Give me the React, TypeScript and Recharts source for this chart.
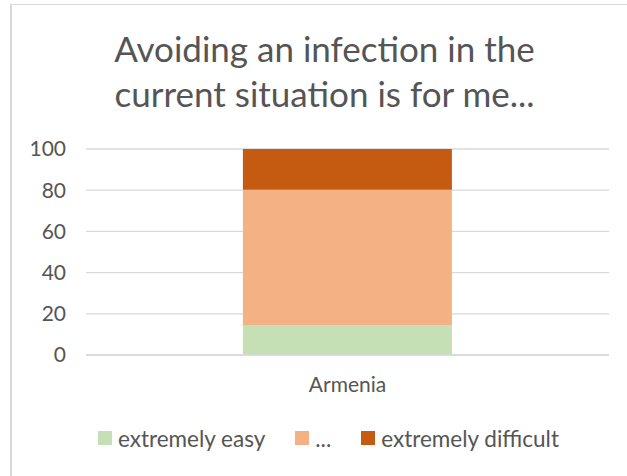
import React from "react";
import {
  BarChart,
  Bar,
  XAxis,
  YAxis,
  CartesianGrid,
  Legend,
} from "recharts";

const countries = ["Armenia"];
const extremelyEasy = [14.6];
const middle = [65.6];
const extremelyDifficult = [19.8];
const yTicks = [0, 20, 40, 60, 80, 100];

const seriesInfo = [
  { key: "easy", name: "extremely easy", color: "#c5e0b4" },
  { key: "middle", name: "...", color: "#f4b183" },
  { key: "difficult", name: "extremely difficult", color: "#c55a11" },
];

const data = countries.map((country, i) => ({
  country,
  easy: extremelyEasy[i],
  middle: middle[i],
  difficult: extremelyDifficult[i],
}));

const FONT = "Lato, 'Open Sans', sans-serif";
const TEXT = "#555555";

const LegendRow = () => (
  <div
    style={{
      display: "flex",
      justifyContent: "center",
      alignItems: "center",
      height: 30,
      fontFamily: FONT,
      fontSize: 22.5,
      color: TEXT,
      paddingLeft: 48,
    }}
  >
    {seriesInfo.map((s, i) => (
      <div
        key={s.key}
        style={{
          display: "flex",
          alignItems: "center",
          marginRight: i < seriesInfo.length - 1 ? 30 : 0,
        }}
      >
        <span
          style={{
            width: 14,
            height: 14,
            background: s.color,
            display: "inline-block",
            marginRight: 6,
          }}
        />
        <span>{s.name}</span>
      </div>
    ))}
  </div>
);

const App: React.FC = () => {
  return (
    <div
      style={{
        position: "absolute",
        left: 0,
        top: 0,
        width: 627,
        height: 476,
        overflow: "hidden",
        background: "#fff",
      }}
    >
      <div
        style={{
          position: "absolute",
          left: 10,
          top: 4,
          width: 700,
          height: 600,
          borderLeft: "2px solid #d9d9d9",
          borderTop: "1px solid #d9d9d9",
        }}
      />
      <div
        style={{
          position: "absolute",
          left: 16,
          top: 26,
          width: 617,
          textAlign: "center",
          fontFamily: FONT,
          fontSize: 35,
          lineHeight: "45px",
          color: TEXT,
        }}
      >
        Avoiding an infection in the
        <br />
        current situation is for me...
      </div>
      <div style={{ position: "absolute", left: 0, top: 0 }}>
        <BarChart
          width={627}
          height={476}
          data={data}
          barCategoryGap="30%"
          margin={{ top: 149, right: 18, left: 0, bottom: 23 }}
        >
          <CartesianGrid
            vertical={false}
            stroke="#d9d9d9"
            strokeWidth={1.3}
          />
          <XAxis
            dataKey="country"
            height={68}
            tickLine={false}
            tickSize={0}
            tickMargin={22}
            axisLine={{ stroke: "#d9d9d9", strokeWidth: 1.3 }}
            tick={{ fill: TEXT, fontSize: 21, fontFamily: FONT }}
          />
          <YAxis
            width={86}
            domain={[0, 100]}
            ticks={yTicks}
            axisLine={false}
            tickLine={false}
            tickSize={0}
            tickMargin={20}
            tick={{ fill: TEXT, fontSize: 21, fontFamily: FONT }}
          />
          <Legend verticalAlign="bottom" content={() => <LegendRow />} />
          {seriesInfo.map((s) => (
            <Bar
              key={s.key}
              dataKey={s.key}
              name={s.name}
              stackId="a"
              fill={s.color}
              isAnimationActive={false}
            />
          ))}
        </BarChart>
      </div>
    </div>
  );
};

export default App;
